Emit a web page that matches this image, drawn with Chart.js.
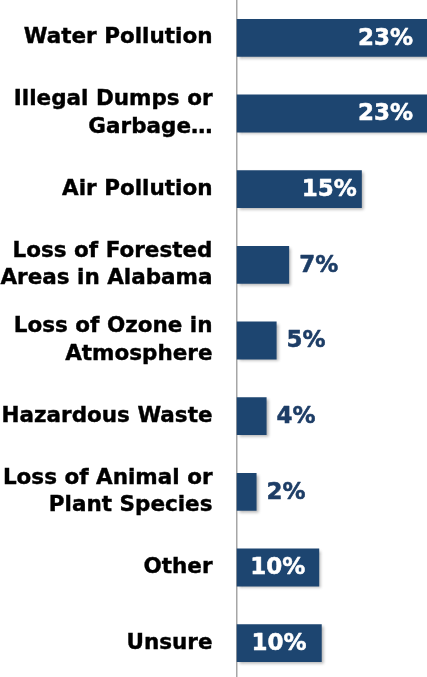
<!DOCTYPE html>
<html>
<head>
<meta charset="utf-8">
<script src="https://cdn.jsdelivr.net/npm/chart.js@4"></script>
<style>
  html, body { margin: 0; padding: 0; background: #fff; overflow: hidden; }
  canvas { display: block; }
</style>
</head>
<body>
<canvas id="issueChart" width="427" height="681"></canvas>
<script>
const categories = [
  'Water Pollution',
  ['Illegal Dumps or', 'Garbage…'],
  'Air Pollution',
  ['Loss of Forested', 'Areas in Alabama'],
  ['Loss of Ozone in', 'Atmosphere'],
  'Hazardous Waste',
  ['Loss of Animal or', 'Plant Species'],
  'Other',
  'Unsure'
];
// bar lengths
const shares = [23.2, 23.2, 15.0, 6.3, 4.8, 3.6, 2.4, 9.9, 10.2];
// printed labels
const shareLabels = ['23%', '23%', '15%', '7%', '5%', '4%', '2%', '10%', '10%'];

const barColor = '#1D4570';
const outsideColor = '#1D3D66';
const labelFont = 'bold 23px "DejaVu Sans"';

// soft drop shadow under the bars
const barShadow = {
  id: 'barShadow',
  beforeDatasetsDraw(chart) {
    const ctx = chart.ctx;
    ctx.save();
    ctx.shadowColor = 'rgba(0,0,0,0.3)';
    ctx.shadowBlur = 3;
    ctx.shadowOffsetX = 2;
    ctx.shadowOffsetY = 2;
  },
  afterDatasetsDraw(chart) {
    chart.ctx.restore();
  }
};

// percentage labels: inside end, centered, or just outside the bar
const valueLabels = {
  id: 'valueLabels',
  afterDatasetsDraw(chart) {
    const ctx = chart.ctx;
    const area = chart.chartArea;
    const meta = chart.getDatasetMeta(0);
    ctx.save();
    ctx.font = labelFont;
    ctx.textBaseline = 'middle';
    ctx.lineWidth = 0.5;
    ctx.lineJoin = 'round';
    meta.data.forEach((bar, i) => {
      const text = shareLabels[i];
      const w = ctx.measureText(text).width;
      const end = Math.min(bar.x, area.right - 9);
      const barW = end - bar.base;
      let x;
      if (barW < w + 20) {
        ctx.fillStyle = ctx.strokeStyle = outsideColor;
        ctx.textAlign = 'left';
        x = bar.x + 10;
      } else if (barW < w * 2) {
        ctx.fillStyle = ctx.strokeStyle = '#fff';
        ctx.textAlign = 'center';
        x = (bar.base + bar.x) / 2;
      } else {
        ctx.fillStyle = ctx.strokeStyle = '#fff';
        ctx.textAlign = 'right';
        x = end - 5;
      }
      ctx.strokeText(text, x, bar.y + 1);
      ctx.fillText(text, x, bar.y + 1);
    });
    ctx.restore();
  }
};

const ctx = document.getElementById('issueChart').getContext('2d');
new Chart(ctx, {
  type: 'bar',
  data: {
    labels: categories,
    datasets: [{
      data: shares,
      backgroundColor: barColor,
      borderWidth: 0,
      barPercentage: 0.5,
      categoryPercentage: 1.0
    }]
  },
  options: {
    indexAxis: 'y',
    responsive: false,
    animation: false,
    devicePixelRatio: 1,
    layout: { padding: 0 },
    scales: {
      x: {
        display: false,
        min: 0,
        max: 22.8
      },
      y: {
        afterFit(scale) {
          scale.width = 236.5;
          scale.paddingTop = 0;
          scale.paddingBottom = 0;
        },
        grid: { display: false, drawTicks: false },
        border: { display: true, color: '#A6A6A6', width: 1.5 },
        ticks: {
          autoSkip: false,
          padding: 24,
          color: '#000',
          textStrokeColor: '#000',
          textStrokeWidth: 0.4,
          font: { family: 'DejaVu Sans', weight: 'bold', size: 21.5, lineHeight: 1.28 }
        }
      }
    },
    plugins: {
      legend: { display: false },
      tooltip: { enabled: false }
    }
  },
  plugins: [barShadow, valueLabels]
});
</script>
</body>
</html>
